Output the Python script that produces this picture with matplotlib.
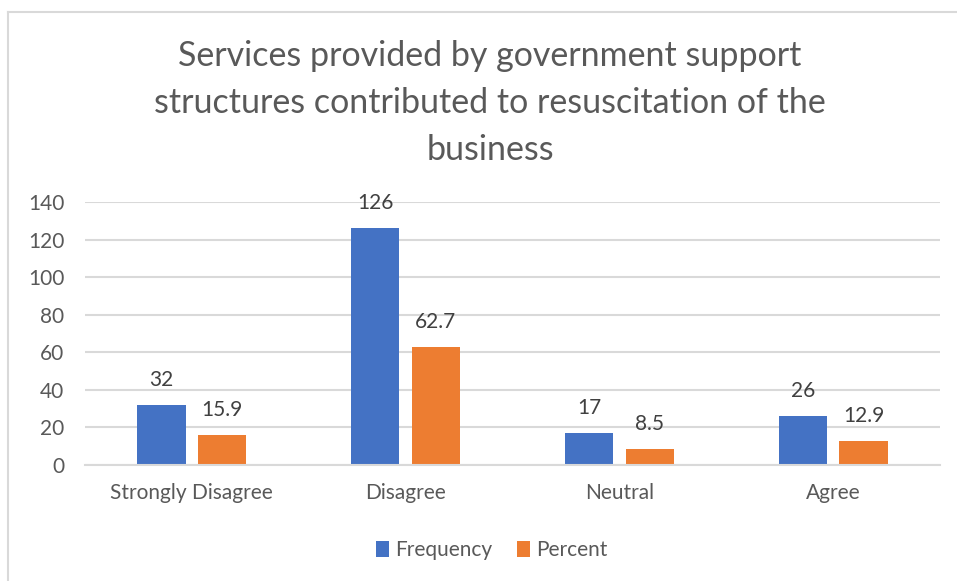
import matplotlib
matplotlib.use("Agg")
import matplotlib.pyplot as plt
from matplotlib.lines import Line2D
import numpy as np

categories = ["Strongly Disagree", "Disagree", "Neutral", "Agree"]
frequency = [32, 126, 17, 26]
percent = [15.9, 62.7, 8.5, 12.9]
freq_labels = ["32", "126", "17", "26"]
pct_labels = ["15.9", "62.7", "8.5", "12.9"]
yticks = [0, 20, 40, 60, 80, 100, 120, 140]

BLUE = "#4472C4"
ORANGE = "#ED7D31"
TEXT = "#595959"
GRID = "#D9D9D9"
FONT = ["Lato", "DejaVu Sans"]
FS = 15

W, H = 957, 581
fig = plt.figure(figsize=(W / 100, H / 100), dpi=100)
fig.patch.set_facecolor("white")

# chart frame (top and left edges)
fig.add_artist(Line2D([8 / W, 1.0], [1 - 12 / H, 1 - 12 / H], color=GRID, lw=1.5))
fig.add_artist(Line2D([8 / W, 8 / W], [1 - 12 / H, 0.0], color=GRID, lw=1.5))

ax = fig.add_axes([85 / W, 1 - 465 / H, (940 - 85) / W, (465 - 202) / H])
x = np.arange(len(categories))
bw = 0.225
off = 0.142
b1 = ax.bar(x - off, frequency, bw, color=BLUE, label="Frequency", zorder=3)
b2 = ax.bar(x + off, percent, bw, color=ORANGE, label="Percent", zorder=3)

for bars, labels in ((b1, freq_labels), (b2, pct_labels)):
    for rect, lab in zip(bars, labels):
        ax.annotate(lab, (rect.get_x() + rect.get_width() / 2, rect.get_height()),
                    xytext=(0, 18), textcoords="offset points",
                    ha="center", va="center", fontsize=FS, color="#404040", family=FONT)

ax.set_xlim(-0.5, len(categories) - 0.5)
ax.set_ylim(0, 140)
ax.set_yticks(yticks)
ax.set_yticklabels([str(t) for t in yticks], family=FONT, fontsize=FS, color=TEXT)
ax.set_xticks(x)
ax.set_xticklabels(categories, family=FONT, fontsize=FS, color=TEXT)
ax.tick_params(axis="both", length=0)
ax.tick_params(axis="y", pad=15)
ax.tick_params(axis="x", pad=13)
ax.yaxis.grid(True, color=GRID, lw=1.5, zorder=0)
ax.set_axisbelow(True)
for s in ["top", "right", "left"]:
    ax.spines[s].set_visible(False)
ax.spines["bottom"].set_color(GRID)
ax.spines["bottom"].set_linewidth(1.5)
ax.spines["bottom"].set_zorder(4)

fig.text(490 / W, 1 - 103 / H,
         "Services provided by government support\nstructures contributed to resuscitation of the\nbusiness",
         ha="center", va="center", fontsize=24.5, color=TEXT, family=FONT, linespacing=1.57)

fig.legend(handles=[b1, b2], labels=["Frequency", "Percent"],
           loc="center", bbox_to_anchor=(492 / W, 1 - 550 / H), ncol=2, frameon=False,
           prop={"family": FONT, "size": FS}, handlelength=0.6, handleheight=0.8,
           handletextpad=0.3, columnspacing=1.2, labelcolor=TEXT)

fig.savefig("out.png", dpi=100, facecolor="white")
